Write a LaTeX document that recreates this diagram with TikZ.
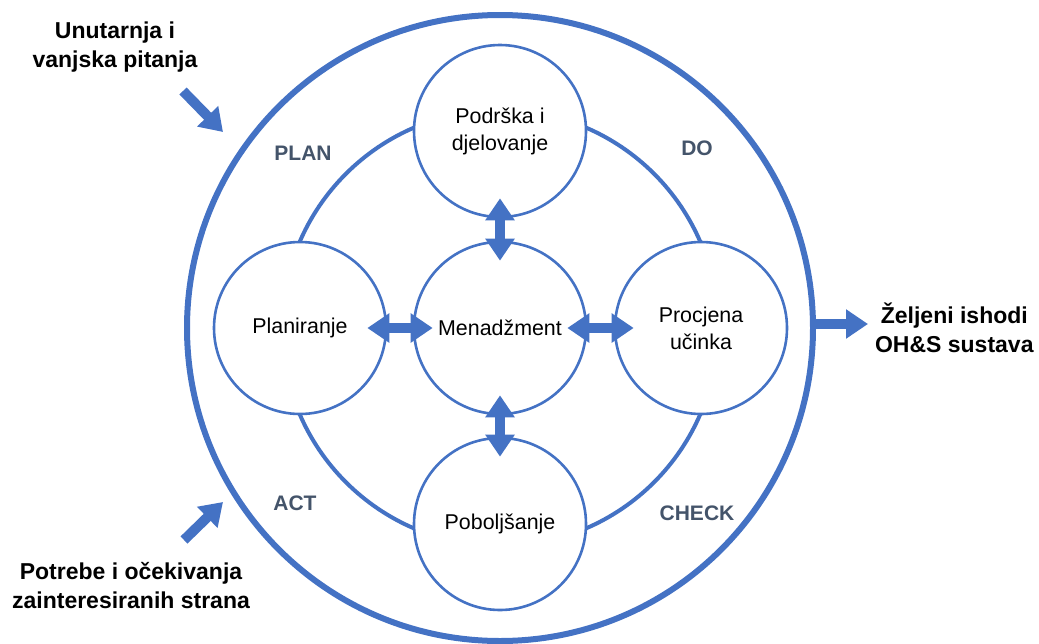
\documentclass[tikz,border=0pt]{standalone}
\usepackage{fontspec}
\setmainfont{Liberation Sans}
\usepackage{tikz}
\usetikzlibrary{arrows.meta}
\definecolor{pdcablue}{RGB}{68,114,196}
\definecolor{pdcagray}{RGB}{68,84,106}

\begin{document}
\begin{tikzpicture}[x=0.5pt,y=-0.5pt,
  stage/.style={circle, draw=pdcablue, line width=1.3pt, fill=white, minimum size=86pt, inner sep=0pt, align=center, font=\fontsize{10.7}{13.5}\selectfont},
  phase/.style={text=pdcagray, font=\fontsize{10.5}{12}\selectfont\bfseries},
  outside/.style={align=center, font=\fontsize{11.5}{14.5}\selectfont\bfseries},
  twoway/.style={pdcablue, line width=5pt, {Triangle[width=14pt,length=11pt]}-{Triangle[width=14pt,length=11pt]}, shorten <=-10pt, shorten >=-10pt},
  oneway/.style={pdcablue, line width=5pt, -{Triangle[width=14pt,length=11pt]}}]
  \useasboundingbox (0,0) rectangle (1039,643);

  \node[circle, draw=pdcablue, line width=3pt, minimum size=313pt] (outer) at (500,328) {};
  \node[circle, draw=pdcablue, line width=2pt, minimum size=218pt] (cycle) at (500,328) {};

  \node[stage] (support) at (500,131) {Podrška i\\djelovanje};
  \node[stage] (plan) at (300,328) {Planiranje};
  \node[stage] (mgmt) at (500,328) {Menadžment};
  \node[stage] (eval) at (701,328) {Procjena\\učinka};
  \node[stage] (improve) at (500,524) {Poboljšanje};

  \draw[twoway] (plan.east) -- (mgmt.west);
  \draw[twoway] (mgmt.east) -- (eval.west);
  \draw[twoway] (support.south) -- (mgmt.north);
  \draw[twoway] (mgmt.south) -- (improve.north);

  \foreach \t/\x/\y in {PLAN/303/153, DO/697/148, ACT/295/503, CHECK/697/513} {
    \node[phase] (\t) at (\x,\y) {\t};
  }

  \node[outside] (issues) at (115,47) {Unutarnja i\\vanjska pitanja};
  \node[outside] (needs) at (131,586) {Potrebe i očekivanja\\zainteresiranih strana};
  \node[outside, anchor=west] (goal) at (868,328) {Željeni ishodi\\OH\&S sustava};

  \coordinate (in1) at (183,91);
  \coordinate (in1tip) at (223,132);
  \coordinate (in2) at (184,540);
  \coordinate (in2tip) at (223,502);
  \draw[oneway] (in1) -- (in1tip);
  \draw[oneway] (in2) -- (in2tip);
  \draw[oneway] ([yshift=2pt]outer.east) -- ([yshift=2pt]goal.west);
\end{tikzpicture}
\end{document}
